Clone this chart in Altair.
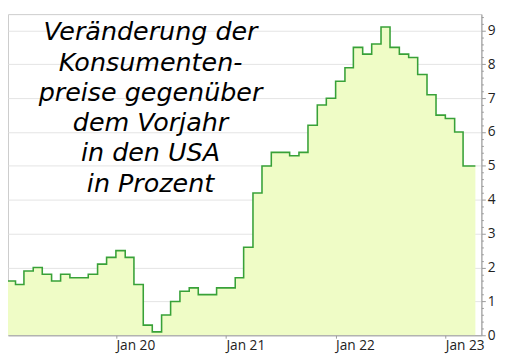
import altair as alt
import pandas as pd

# Monthly CPI change vs. previous year, USA, Jan 2019 .. Mar 2023
months = pd.date_range("2019-01-01", "2023-03-01", freq="MS").strftime("%Y-%m-%d").tolist()
values = [
    1.6, 1.5, 1.9, 2.0, 1.8, 1.6, 1.8, 1.7, 1.7, 1.8, 2.1, 2.3,   # 2019
    2.5, 2.3, 1.5, 0.3, 0.1, 0.6, 1.0, 1.3, 1.4, 1.2, 1.2, 1.4,   # 2020
    1.4, 1.7, 2.6, 4.2, 5.0, 5.4, 5.4, 5.3, 5.4, 6.2, 6.8, 7.0,   # 2021
    7.5, 7.9, 8.5, 8.3, 8.6, 9.1, 8.5, 8.3, 8.2, 7.7, 7.1, 6.5,   # 2022
    6.4, 6.0, 5.0,                                                # 2023
]
end_date = "2023-04-11"  # last monthly step is drawn up to here

title_lines = [
    "Veränderung der",
    "Konsumenten-",
    "preise gegenüber",
    "dem Vorjahr",
    "in den USA",
    "in Prozent",
]
x_tick_years = [2020, 2021, 2022, 2023]
y_ticks = [round(0.2 * i, 1) for i in range(48)]

df = pd.DataFrame({"date": months + [end_date], "value": values + [values[-1]]})

is_major = "abs(datum.value - round(datum.value)) < 0.01"

x_enc = alt.X(
    "date:T",
    scale=alt.Scale(
        type="utc",
        domain=[alt.DateTime(year=2019, month=1, date=7, utc=True),
                alt.DateTime(year=2023, month=5, date=1, utc=True)],
    ),
    axis=alt.Axis(
        values=[alt.DateTime(year=y, month=1, date=1, utc=True) for y in x_tick_years],
        labelExpr="'Jan ' + utcFormat(datum.value, '%y')",
        labelAlign="left",
        labelFlush=False,
        labelPadding=1,
        labelFontSize=14,
        labelFont="Open Sans",
        labelColor="#222222",
        tickSize=3,
        tickColor="#999999",
        domainColor="#999999",
        grid=False,
        title=None,
    ),
)
y_enc = alt.Y(
    "value:Q",
    scale=alt.Scale(domain=[0, 9.48], nice=False, zero=True),
    axis=alt.Axis(
        orient="right",
        values=y_ticks,
        labelExpr=is_major + " ? format(datum.value, 'd') : ''",
        labelOverlap=False,
        labelFlush=False,
        labelPadding=2,
        labelFontSize=14,
        labelFont="Open Sans",
        labelColor="#222222",
        tickSize={"condition": {"test": is_major, "value": 4}, "value": 2},
        tickColor="#999999",
        domainColor="#999999",
        gridColor="#e3e3e3",
        gridOpacity={"condition": {"test": is_major, "value": 1}, "value": 0},
        title=None,
    ),
)

base = alt.Chart(df).encode(x=x_enc, y=y_enc)
area = base.mark_area(interpolate="step-after", color="#effcc6", opacity=1, clip=True)
line = base.mark_line(interpolate="step-after", color="#38a138", strokeWidth=1.6, clip=True)

chart = (
    alt.layer(area, line)
    .properties(
        width=485,
        height=329,
        padding={"left": 0, "top": -3, "right": 2, "bottom": 2},
        background="white",
        title=alt.TitleParams(
            text=title_lines,
            orient="top",
            anchor="start",
            frame="group",
            align="center",
            dx=146,
            offset=-191,
            fontSize=26,
            font="DejaVu Sans",
            fontStyle="italic",
            fontWeight="normal",
            lineHeight=31,
            color="#000000",
        ),
    )
    .configure_view(stroke="#cccccc", strokeWidth=1)
)

chart.save("out.html", embed_options={"renderer": "svg", "actions": False})
